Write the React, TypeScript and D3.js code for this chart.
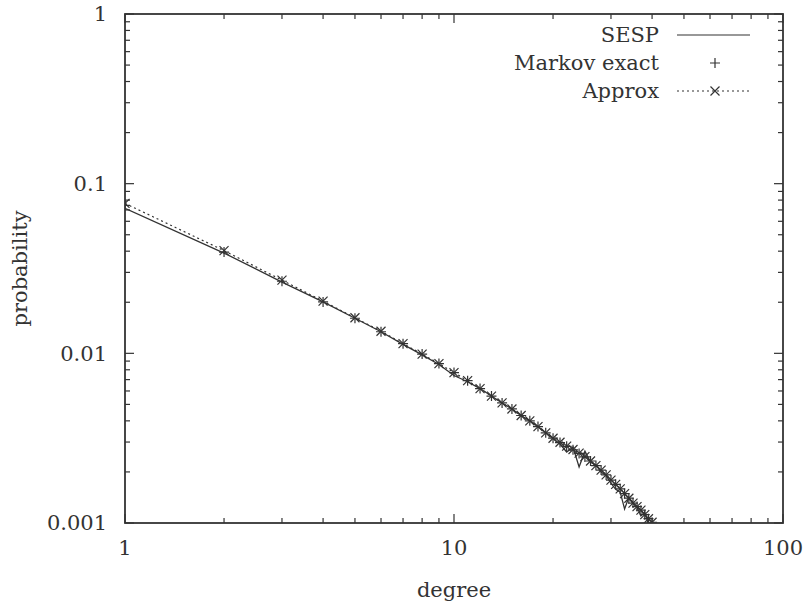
import React from 'react';
import * as d3 from 'd3';

// degree distribution, log-log
const degrees = [1, 2, 3, 4, 5, 6, 7, 8, 9, 10, 11, 12, 13, 14, 15, 16, 17, 18, 19, 20,
  21, 22, 23, 24, 25, 26, 27, 28, 29, 30, 31, 32, 33, 34, 35, 36, 37, 38, 39, 40];

const sesp = [0.0715, 0.0390, 0.0263, 0.0201, 0.0161, 0.0134, 0.0113, 0.0098, 0.0086, 0.0074,
  0.0068, 0.0062, 0.0056, 0.0051, 0.0047, 0.0043, 0.0040, 0.0037, 0.0034, 0.00315,
  0.00292, 0.00262, 0.00280, 0.00214, 0.00265, 0.00228, 0.00220, 0.00200, 0.00190, 0.00172,
  0.00158, 0.00152, 0.00121, 0.00142, 0.00130, 0.00124, 0.00110, 0.00116, 0.00098, 0.00102];

const markov = [0.0745, 0.0395, 0.0266, 0.0201, 0.0161, 0.0134, 0.0114, 0.0099, 0.0087, 0.0077,
  0.0069, 0.0062, 0.0056, 0.0051, 0.0047, 0.0043, 0.0040, 0.0037, 0.0034, 0.00316,
  0.00298, 0.00283, 0.00270, 0.00257, 0.00245, 0.00232, 0.00218, 0.00205, 0.00192, 0.00179,
  0.00169, 0.00159, 0.00149, 0.00140, 0.00131, 0.00125, 0.00119, 0.00112, 0.00106, 0.00101];

const approx = [0.0765, 0.0403, 0.0270, 0.0203, 0.0162, 0.0135, 0.0114, 0.0099, 0.0087, 0.0077,
  0.0069, 0.0062, 0.0056, 0.0051, 0.0047, 0.0043, 0.0040, 0.0037, 0.0034, 0.00316,
  0.00299, 0.00284, 0.00271, 0.00258, 0.00246, 0.00232, 0.00218, 0.00205, 0.00192, 0.00179,
  0.00169, 0.00159, 0.00149, 0.00140, 0.00131, 0.00125, 0.00119, 0.00112, 0.00106, 0.00101];

const xTicks = [1, 10, 100];
const yTicks = [0.001, 0.01, 0.1, 1];
const yTickLabels = ['0.001', '0.01', '0.1', '1'];
const legendNames = ['SESP', 'Markov exact', 'Approx'];

const W = 808;
const H = 606;
const margin = { top: 14, right: 25, bottom: 83, left: 125 };
const font = '"DejaVu Serif", serif';
const ink = '#333';

const App = () => {
  const x = d3.scaleLog().domain([1, 100]).range([margin.left, W - margin.right]);
  const y = d3.scaleLog().domain([0.001, 1]).range([H - margin.bottom, margin.top]);
  const [x0, x1] = x.range();
  const [y0, y1] = y.range(); // y0 bottom, y1 top

  const line = d3.line<[number, number]>()
    .x(d => x(d[0]))
    .y(d => y(d[1]));

  const sespPts = degrees.map((d, i) => [d, sesp[i]] as [number, number]);
  const markovPts = degrees.map((d, i) => [d, markov[i]] as [number, number]);
  const approxPts = degrees.map((d, i) => [d, approx[i]] as [number, number]);

  // minor ticks 2..9 in each decade
  const xMinor = x.ticks().filter(v => !xTicks.includes(v));
  const yMinor = y.ticks().filter(v => !yTicks.some(t => Math.abs(t - v) < 1e-9));

  const plus = (cx: number, cy: number, s: number) => `M${cx - s},${cy}H${cx + s}M${cx},${cy - s}V${cy + s}`;
  const cross = (cx: number, cy: number, s: number) =>
    `M${cx - s},${cy - s}L${cx + s},${cy + s}M${cx - s},${cy + s}L${cx + s},${cy - s}`;

  const legX = 659;
  const legY = [35, 63, 91];

  return (
    <svg width={W} height={H} style={{ position: 'absolute', left: 0, top: 0, background: '#fff' }}>
      <defs>
        <clipPath id="plot">
          <rect x={x0} y={y1} width={x1 - x0} height={y0 - y1} />
        </clipPath>
      </defs>

      {/* ticks */}
      <g stroke={ink} strokeWidth={1.2}>
        {xTicks.map(v => (
          <g key={'xt' + v}>
            <line x1={x(v)} x2={x(v)} y1={y0} y2={y0 - 9} />
            <line x1={x(v)} x2={x(v)} y1={y1} y2={y1 + 9} />
          </g>
        ))}
        {xMinor.map(v => (
          <g key={'xm' + v}>
            <line x1={x(v)} x2={x(v)} y1={y0} y2={y0 - 5} />
            <line x1={x(v)} x2={x(v)} y1={y1} y2={y1 + 5} />
          </g>
        ))}
        {yTicks.map(v => (
          <g key={'yt' + v}>
            <line x1={x0} x2={x0 + 9} y1={y(v)} y2={y(v)} />
            <line x1={x1} x2={x1 - 9} y1={y(v)} y2={y(v)} />
          </g>
        ))}
        {yMinor.map(v => (
          <g key={'ym' + v}>
            <line x1={x0} x2={x0 + 5} y1={y(v)} y2={y(v)} />
            <line x1={x1} x2={x1 - 5} y1={y(v)} y2={y(v)} />
          </g>
        ))}
      </g>

      {/* frame */}
      <rect x={x0} y={y1} width={x1 - x0} height={y0 - y1} fill="none" stroke={ink} strokeWidth={1.8} />

      {/* tick labels */}
      <g fontFamily={font} fontSize={21} fill={ink}>
        {xTicks.map(v => (
          <text key={'xl' + v} x={x(v)} y={y0 + 25} dy="0.35em" textAnchor="middle">{v}</text>
        ))}
        {yTicks.map((v, i) => (
          <text key={'yl' + v} x={x0 - 18} y={y(v)} dy="0.35em" textAnchor="end">{yTickLabels[i]}</text>
        ))}
        <text x={(x0 + x1) / 2} y={590} dy="0.35em" textAnchor="middle">degree</text>
        <text transform={`translate(20,${(y0 + y1) / 2}) rotate(-90)`} dy="0.35em" textAnchor="middle">probability</text>
      </g>

      {/* series */}
      <g clipPath="url(#plot)" fill="none">
        <path d={line(approxPts) || ''} stroke={ink} strokeWidth={1.2} strokeDasharray="2,3" />
        <path d={line(sespPts) || ''} stroke={ink} strokeWidth={1.3} />
        {markovPts.map(([d, v]) => (
          <path key={'m' + d} d={plus(x(d), y(v), 5)} stroke={ink} strokeWidth={1.2} />
        ))}
        {approxPts.map(([d, v]) => (
          <path key={'a' + d} d={cross(x(d), y(v), 4.5)} stroke={ink} strokeWidth={1.2} />
        ))}
      </g>

      {/* legend */}
      <g fontFamily={font} fontSize={21} fill={ink}>
        {legendNames.map((n, i) => (
          <text key={n} x={legX} y={legY[i]} dy="0.35em" textAnchor="end">{n}</text>
        ))}
      </g>
      <g fill="none" stroke={ink} strokeWidth={1.2}>
        <line x1={677} x2={750} y1={legY[0]} y2={legY[0]} />
        <path d={plus(715, legY[1], 5)} />
        <line x1={677} x2={750} y1={legY[2]} y2={legY[2]} strokeDasharray="2,3" />
        <path d={cross(715, legY[2], 4.5)} />
      </g>
    </svg>
  );
};

export default App;
